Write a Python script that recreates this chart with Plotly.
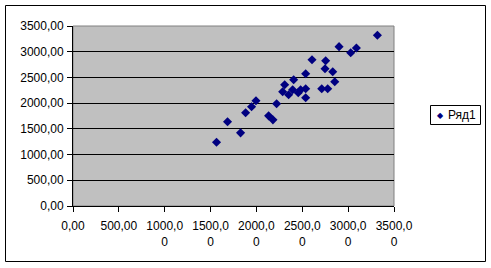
import plotly.graph_objects as go

x_vals = [1565, 1685, 1827, 1882, 1947, 1995, 2133, 2180, 2220, 2286,
          2308, 2351, 2395, 2406, 2456, 2482, 2537, 2537, 2537, 2606,
          2712, 2777, 2748, 2755, 2832, 2854, 2901, 3028, 3090, 3319]
y_vals = [1241, 1637, 1422, 1812, 1929, 2046, 1753, 1675, 1987, 2221,
          2357, 2162, 2260, 2455, 2201, 2260, 2279, 2104, 2572, 2844,
          2279, 2279, 2669, 2825, 2611, 2416, 3098, 2981, 3072, 3320]
series_name = "Ряд1"

tick_vals = [0, 500, 1000, 1500, 2000, 2500, 3000, 3500]
x_tick_text = ["0,00", "500,00", "1000,0<br>0", "1500,0<br>0", "2000,0<br>0",
               "2500,0<br>0", "3000,0<br>0", "3500,0<br>0"]
y_tick_text = ["0,00", "500,00", "1000,00", "1500,00", "2000,00",
               "2500,00", "3000,00", "3500,00"]

fig = go.Figure()
fig.add_trace(go.Scatter(
    x=x_vals, y=y_vals, mode="markers", name=series_name,
    marker=dict(symbol="diamond", size=7, color="#000080"),
    showlegend=False,
))

W, H = 491, 268
L, R, T, B = 73, 97, 26, 62
pw, ph = W - L - R, H - T - B

def px(xp):
    return (xp - L) / pw

def py(yp):
    return (H - B - yp) / ph

font = dict(family="Arial, Liberation Sans, sans-serif", size=12, color="black")

fig.update_layout(
    width=W, height=H,
    margin=dict(l=L, r=R, t=T, b=B, autoexpand=False),
    paper_bgcolor="white",
    plot_bgcolor="#C0C0C0",
    font=font,
    showlegend=False,
    xaxis=dict(
        range=[0, 3500], tickvals=tick_vals, ticktext=x_tick_text,
        showgrid=False, zeroline=False,
        showline=True, linecolor="black", linewidth=1,
        ticks="outside", ticklen=5, tickcolor="black",
        tickfont=font, fixedrange=True, ticklabelstandoff=4,
    ),
    yaxis=dict(
        range=[0, 3500], tickvals=tick_vals, ticktext=y_tick_text,
        showgrid=True, gridcolor="black", gridwidth=1,
        zeroline=False,
        showline=True, linecolor="black", linewidth=1,
        ticks="outside", ticklen=5, tickcolor="black",
        tickfont=font, fixedrange=True, ticklabelstandoff=1,
    ),
    shapes=[
        dict(type="rect", xref="paper", yref="paper",
             x0=0, x1=1, y0=0, y1=1,
             line=dict(color="#808080", width=1), layer="below"),
        dict(type="rect", xref="paper", yref="paper",
             x0=px(5.5), x1=px(485.5), y0=py(261.5), y1=py(5.5),
             line=dict(color="black", width=1)),
        # legend box
        dict(type="rect", xref="paper", yref="paper",
             x0=px(430.5), x1=px(480.5), y0=py(124.5), y1=py(105.5),
             line=dict(color="black", width=1), fillcolor="white"),
    ],
    annotations=[
        dict(xref="paper", yref="paper", x=px(440), y=py(115),
             text="◆", showarrow=False, xanchor="center", yanchor="middle",
             font=dict(family="DejaVu Sans", size=8, color="#000080")),
        dict(xref="paper", yref="paper", x=px(446), y=py(115),
             text=series_name, showarrow=False, xanchor="left", yanchor="middle",
             font=dict(family="Arial, Liberation Sans, sans-serif", size=12, color="black")),
    ],
)

fig.write_html("out.html")
